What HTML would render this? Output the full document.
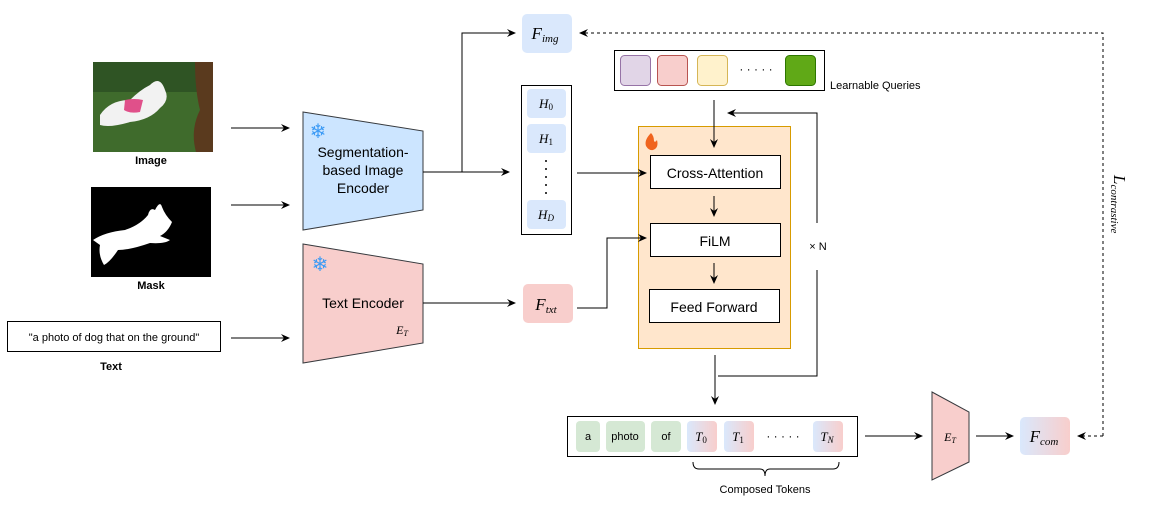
<!DOCTYPE html>
<html><head><meta charset="utf-8"><style>
html,body{margin:0;padding:0;background:#fff;}
svg{display:block;}
text{font-family:"Liberation Sans",sans-serif;}
.m{font-family:"Liberation Serif",serif;font-style:italic;}
</style></head><body>
<svg width="1153" height="512" viewBox="0 0 1153 512" xmlns="http://www.w3.org/2000/svg">
<defs>
<marker id="a" markerWidth="10" markerHeight="10" refX="8" refY="4" orient="auto" markerUnits="userSpaceOnUse">
<path d="M0,0 L9,4 L0,8 L3,4 z" fill="#000"/></marker>
<linearGradient id="g" x1="0" x2="1" y1="0" y2="0"><stop offset="0" stop-color="#dae8fc"/><stop offset="1" stop-color="#f8cecc"/></linearGradient>
</defs>
<!-- Image -->
<rect x="93" y="62" width="120" height="90" fill="#3f6b2c"/>
<rect x="93" y="62" width="120" height="30" fill="#2f5424"/>
<path d="M195,62 L213,62 L213,152 L196,152 Q190,130 200,110 Q195,90 195,62z" fill="#5a3a1e"/>
<path d="M100,115 Q110,100 130,100 Q140,90 150,85 Q160,75 165,90 Q170,100 160,108 Q150,120 130,122 Q110,128 100,125z" fill="#f2f2f2"/>
<path d="M125,100 Q135,98 143,100 L140,112 Q130,114 124,110z" fill="#e0508a"/>
<text x="151" y="164" font-size="11" font-weight="bold" text-anchor="middle">Image</text>
<!-- Mask -->
<rect x="91" y="187" width="120" height="90" fill="#000"/>
<path d="M93,240 Q105,232 125,230 Q140,225 148,215 Q150,207 155,210 Q160,200 162,207 Q165,215 172,222 Q168,232 160,236 L170,240 Q165,244 150,243 Q130,250 118,250 Q110,262 104,265 Q98,255 100,245z" fill="#fff"/>
<text x="151" y="289" font-size="11" font-weight="bold" text-anchor="middle">Mask</text>
<!-- Text -->
<rect x="7.5" y="321.5" width="213" height="30" fill="#fff" stroke="#000"/>
<text x="114" y="341" font-size="11" text-anchor="middle">"a photo of dog that on the ground"</text>
<text x="111" y="370" font-size="11" font-weight="bold" text-anchor="middle">Text</text>
<g stroke="#000" stroke-width="1" fill="none">
<line x1="231" y1="128" x2="289" y2="128" marker-end="url(#a)"/>
<line x1="231" y1="205" x2="289" y2="205" marker-end="url(#a)"/>
<line x1="231" y1="338" x2="289" y2="338" marker-end="url(#a)"/>
</g>
<!-- encoders -->
<path d="M303,112 L423,131 L423,210 L303,230z" fill="#cce5ff" stroke="#36393d"/>
<text x="318" y="138" font-size="20" fill="#3d9bf5" text-anchor="middle">❄</text>
<text x="363" y="157" font-size="14" text-anchor="middle">Segmentation-</text>
<text x="363" y="175" font-size="14" text-anchor="middle">based Image</text>
<text x="363" y="193" font-size="14" text-anchor="middle">Encoder</text>
<path d="M303,244 L423,264 L423,343 L303,363z" fill="#f8cecc" stroke="#36393d"/>
<text x="320" y="271" font-size="20" fill="#3d9bf5" text-anchor="middle">❄</text>
<text x="363" y="308" font-size="14" text-anchor="middle">Text Encoder</text>
<text x="402" y="334" font-size="12" class="m" text-anchor="middle">E<tspan font-size="8" dy="2">T</tspan></text>
<g stroke="#000" fill="none">
<polyline points="423,172 509,172" marker-end="url(#a)"/>
<polyline points="462,172 462,33 515,33" marker-end="url(#a)"/>
<polyline points="423,303 515,303" marker-end="url(#a)"/>
</g>
<rect x="522" y="14" width="50" height="39" rx="5" fill="#dae8fc"/>
<text x="545" y="39" font-size="17" class="m" text-anchor="middle">F<tspan font-size="11" dy="3">img</tspan></text>
<rect x="521.5" y="85.5" width="50" height="149" fill="#fff" stroke="#000"/>
<rect x="527" y="89" width="39" height="29" rx="4" fill="#dae8fc"/>
<rect x="527" y="124" width="39" height="29" rx="4" fill="#dae8fc"/>
<rect x="527" y="200" width="39" height="29" rx="4" fill="#dae8fc"/>
<text x="546" y="108" font-size="13" class="m" text-anchor="middle">H<tspan font-size="9" dy="2" font-style="normal">0</tspan></text>
<text x="546" y="143" font-size="13" class="m" text-anchor="middle">H<tspan font-size="9" dy="2" font-style="normal">1</tspan></text>
<text x="546" y="219" font-size="13" class="m" text-anchor="middle">H<tspan font-size="9" dy="2">D</tspan></text>
<g fill="#000"><circle cx="546" cy="161" r="1"/><circle cx="546" cy="169" r="1"/><circle cx="546" cy="177" r="1"/><circle cx="546" cy="185" r="1"/><circle cx="546" cy="193" r="1"/></g>
<rect x="523" y="284" width="50" height="39" rx="5" fill="#f8cecc"/>
<text x="546" y="310" font-size="17" class="m" text-anchor="middle">F<tspan font-size="11" dy="3">txt</tspan></text>
<!-- learnable queries -->
<rect x="614.5" y="50.5" width="210" height="40" fill="#fff" stroke="#000"/>
<rect x="620.5" y="55.5" width="30" height="30" rx="4" fill="#e1d5e7" stroke="#9673a6"/>
<rect x="657.5" y="55.5" width="30" height="30" rx="4" fill="#f8cecc" stroke="#b85450"/>
<rect x="697.5" y="55.5" width="30" height="30" rx="4" fill="#fff2cc" stroke="#d6b656"/>
<rect x="785.5" y="55.5" width="30" height="30" rx="4" fill="#60a917" stroke="#2d7600"/>
<text x="756" y="73" font-size="12" text-anchor="middle">· · · · ·</text>
<text x="830" y="89" font-size="11">Learnable Queries</text>
<!-- orange block -->
<rect x="638.5" y="126.5" width="152" height="222" fill="#ffe6cc" stroke="#d79b00"/>
<path d="M651,133 Q644,140 646,146 Q649,151 653,150 Q659,148 657,140 Q655,143 654,141 Q654,136 651,133z" fill="#f0641e"/>
<rect x="650.5" y="155.5" width="130" height="33" fill="#fff" stroke="#000"/>
<rect x="650.5" y="223.5" width="130" height="33" fill="#fff" stroke="#000"/>
<rect x="649.5" y="289.5" width="130" height="33" fill="#fff" stroke="#000"/>
<text x="715" y="178" font-size="14" text-anchor="middle">Cross-Attention</text>
<text x="715" y="246" font-size="14" text-anchor="middle">FiLM</text>
<text x="714" y="312" font-size="14" text-anchor="middle">Feed Forward</text>
<g stroke="#000" fill="none">
<polyline points="577,173 646,173" marker-end="url(#a)"/>
<polyline points="577,308 607,308 607,238 646,238" marker-end="url(#a)"/>
<line x1="714" y1="100" x2="714" y2="147" marker-end="url(#a)"/>
<line x1="714" y1="196" x2="714" y2="216" marker-end="url(#a)"/>
<line x1="714" y1="263" x2="714" y2="283" marker-end="url(#a)"/>
<polyline points="817,223 817,113 728,113" marker-end="url(#a)"/>
<polyline points="817,270 817,376 718,376"/>
<line x1="715" y1="355" x2="715" y2="404" marker-end="url(#a)"/>
</g>
<text x="818" y="250" font-size="11" text-anchor="middle">×  N</text>
<!-- tokens -->
<rect x="567.5" y="416.5" width="290" height="40" fill="#fff" stroke="#000"/>
<rect x="576" y="421" width="24" height="31" rx="4" fill="#d5e8d4"/>
<rect x="606" y="421" width="39" height="31" rx="4" fill="#d5e8d4"/>
<rect x="651" y="421" width="30" height="31" rx="4" fill="#d5e8d4"/>
<rect x="687" y="421" width="30" height="31" rx="4" fill="url(#g)"/>
<rect x="724" y="421" width="30" height="31" rx="4" fill="url(#g)"/>
<rect x="813" y="421" width="30" height="31" rx="4" fill="url(#g)"/>
<text x="588" y="440" font-size="11" text-anchor="middle">a</text>
<text x="625" y="440" font-size="11" text-anchor="middle">photo</text>
<text x="666" y="440" font-size="11" text-anchor="middle">of</text>
<text x="701" y="441" font-size="13" class="m" text-anchor="middle">T<tspan font-size="9" dy="2" font-style="normal">0</tspan></text>
<text x="738" y="441" font-size="13" class="m" text-anchor="middle">T<tspan font-size="9" dy="2" font-style="normal">1</tspan></text>
<text x="827" y="441" font-size="13" class="m" text-anchor="middle">T<tspan font-size="9" dy="2">N</tspan></text>
<text x="783" y="440" font-size="12" text-anchor="middle">· · · · ·</text>
<path d="M693,462 Q693,469 699,469 L760,469 Q765,469 765,476 Q765,469 770,469 L833,469 Q839,469 839,462" fill="none" stroke="#000"/>
<text x="765" y="493" font-size="11" text-anchor="middle">Composed Tokens</text>
<g stroke="#000" fill="none">
<line x1="865" y1="436" x2="922" y2="436" marker-end="url(#a)"/>
<line x1="976" y1="436" x2="1013" y2="436" marker-end="url(#a)"/>
</g>
<path d="M932,392 L969,412 L969,462 L932,480z" fill="#f8cecc" stroke="#36393d"/>
<text x="950" y="441" font-size="12" class="m" text-anchor="middle">E<tspan font-size="8" dy="2">T</tspan></text>
<rect x="1020" y="417" width="50" height="38" rx="5" fill="url(#g)"/>
<text x="1044" y="442" font-size="17" class="m" text-anchor="middle">F<tspan font-size="11" dy="3">com</tspan></text>
<g stroke="#000" fill="none" stroke-dasharray="3,3">
<polyline points="1103,436 1078,436" marker-end="url(#a)"/>
<polyline points="1103,436 1103,33 580,33" marker-end="url(#a)"/>
</g>
<text transform="translate(1114,175) rotate(90)" font-size="17" class="m">L<tspan font-size="11" dy="3">contrastive</tspan></text>
</svg>
</body></html>
